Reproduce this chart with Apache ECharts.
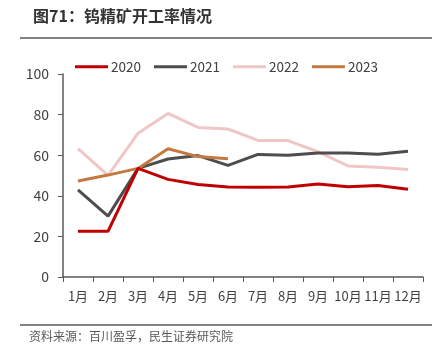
<!DOCTYPE html>
<html><head><meta charset="utf-8">
<script src="https://cdn.jsdelivr.net/npm/echarts@6/dist/echarts.min.js"></script>
<style>html,body{margin:0;padding:0;background:#fff;}#c{width:439px;height:360px;}</style>
</head><body><div id="c"></div>
<script>
const categories = ['1月','2月','3月','4月','5月','6月','7月','8月','9月','10月','11月','12月'];
const s2020 = [22.5, 22.5, 53.5, 48.1, 45.6, 44.3, 44.2, 44.3, 45.8, 44.5, 45.1, 43.2];
const s2021 = [42.9, 30.0, 53.5, 58.1, 59.8, 55.0, 60.4, 60.0, 61.1, 61.1, 60.5, 61.9];
const s2022 = [63.2, 50.1, 70.8, 80.6, 73.7, 72.9, 67.3, 67.2, 61.7, 54.7, 54.1, 53.0];
const s2023 = [47.3, 50.2, 53.5, 63.2, 59.3, 58.3];
const yTicks = {min: 0, max: 100, interval: 20};
const names = ['2020','2021','2022','2023'];
const colors = ['#C00000','#4D4D4D','#F0C6C6','#C27A42'];
const font = "'Noto Sans CJK SC','Noto Sans',sans-serif";
const chart = echarts.init(document.getElementById('c'));
const data = [s2020, s2021, s2022, s2023];
chart.setOption({
  animation: false,
  title: {
    text: '图71：钨精矿开工率情况', left: 28, top: 3,
    textStyle: {fontSize: 16, fontWeight: 'bold', color: '#333', fontFamily: "'Noto Sans CJK SC',sans-serif"}
  },
  graphic: [
    {type: 'line', shape: {x1: 20, y1: 38, x2: 432, y2: 38}, style: {stroke: '#595959', lineWidth: 1.5}},
    {type: 'line', shape: {x1: 20, y1: 325, x2: 432, y2: 325}, style: {stroke: '#595959', lineWidth: 1.5}},
    {type: 'text', left: 29, top: 330, style: {text: '资料来源：百川盈孚，民生证券研究院', fill: '#595959', fontSize: 12, fontFamily: "'Noto Sans CJK SC',sans-serif"}}
  ],
  legend: {
    data: names, left: 70, top: 55, itemWidth: 33, itemHeight: 3, itemGap: 13,
    icon: 'rect',
    textStyle: {fontSize: 13.5, color: '#404040', fontFamily: font, padding: [0,0,0,-2]}
  },
  grid: {left: 63, right: 16, top: 74, bottom: 83},
  xAxis: {
    type: 'category', data: categories, boundaryGap: true,
    axisLine: {lineStyle: {color: '#595959', width: 1.5}},
    axisTick: {show: true, length: 5, alignWithLabel: false, lineStyle: {color: '#595959'}},
    axisLabel: {fontSize: 13, color: '#404040', margin: 13, interval: 0, fontFamily: font}
  },
  yAxis: {
    type: 'value', min: yTicks.min, max: yTicks.max, interval: yTicks.interval,
    axisLine: {show: true, lineStyle: {color: '#595959', width: 1.5}},
    axisTick: {show: true, length: 5, lineStyle: {color: '#595959'}},
    splitLine: {show: false},
    axisLabel: {fontSize: 14, color: '#404040', margin: 14, fontFamily: font}
  },
  series: names.map((n, i) => ({
    name: n, type: 'line', data: data[i], symbol: 'none',
    lineStyle: {color: colors[i], width: 3}, itemStyle: {color: colors[i]}, z: i === 0 ? 5 : (i === 2 ? 2 : 3)
  }))
});
</script></body></html>
